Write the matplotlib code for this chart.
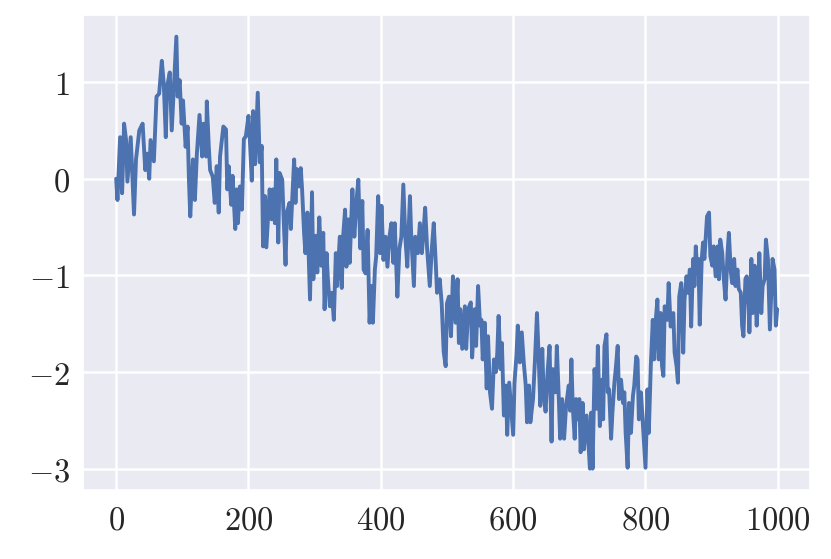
import numpy as np
import matplotlib
matplotlib.use("Agg")
import matplotlib.pyplot as plt
import seaborn as sns
from matplotlib.ticker import FuncFormatter

# step index and value, section by section
steps = [
    0, 2, 6, 9, 12, 15, 17, 22, 27, 30, 35, 40, 44, 47, 50, 52, 57, 61, 65, 69,
    72, 75, 77, 81, 84, 87, 91, 93, 96, 99, 101, 105, 108, 110, 112, 116, 119, 122, 126, 130,
    132, 136, 137, 140, 142, 146, 149, 152, 155, 157, 162,
    166, 168, 170, 174, 176, 180, 182, 184, 187, 190, 193, 196, 200, 202, 205, 207, 210, 214, 217,
    220, 222, 225, 227, 232, 235, 237, 240, 242, 245, 247, 251, 253, 256, 258, 262, 264, 269, 271,
    273, 276, 279, 281, 284, 286, 289, 293, 296, 298, 301, 304, 307, 310, 313, 315, 318, 320, 323,
    326, 329, 332, 334,
    338, 341, 343, 346, 348, 351, 353, 357, 360, 363, 366, 369, 372, 374, 377, 380, 383, 386, 388,
    391, 393, 396, 399, 401, 404, 407, 410, 413, 416, 419, 421, 425, 428, 431, 434, 437, 440, 444,
    446, 450, 452, 456, 459, 462, 464, 467, 470, 474, 477, 480, 483, 485, 489, 492, 495, 498, 500,
    503, 506, 509,
    513, 516, 518, 520, 523, 527, 529, 532, 536, 538, 542, 544, 547, 550, 552, 554, 557, 560, 562,
    565, 568, 571, 574, 576, 578, 581, 583, 586, 589, 591, 594, 597, 600, 602, 605, 607, 610, 613,
    616, 619, 621, 624, 626, 630, 633, 636, 639, 641, 644, 646, 649, 652, 655, 658, 660, 664, 666,
    669, 671, 674, 677, 680,
    684, 686, 688, 690, 693, 695, 697, 700, 702, 705, 707, 711, 714, 716, 718, 720, 723, 726, 728,
    731, 734, 736, 738, 741, 743, 745, 748, 750, 753, 755, 758, 760, 763, 766, 768, 770, 773, 775,
    778, 781, 783, 786, 788, 790, 793, 795, 798, 800, 803, 805, 808, 811, 813, 816, 818, 820, 823,
    825, 827, 829, 833, 835, 838, 842, 844, 847,
    849, 851, 854, 857, 859, 862, 864, 867, 869, 872, 874, 876, 878, 880, 882, 885, 887, 889, 893,
    896, 898, 901, 903, 906, 909, 911, 913, 916, 918, 921, 924, 926, 929, 931, 934, 936, 939, 941,
    944, 946, 948, 951, 953, 956, 957, 960, 962, 965, 968, 970, 972, 975, 977, 980, 982, 985, 988,
    990, 992, 995, 997, 999,
]
values = [
    0.0, -0.22, 0.43, -0.15, 0.57, 0.4, -0.03, 0.43, -0.37, 0.2, 0.5, 0.57, 0.09, 0.26, 0.0, 0.4, 0.18, 0.85, 0.88, 1.22,
    0.98, 0.43, 0.95, 1.1, 0.5, 0.91, 1.47, 0.85, 1.02, 0.57, 0.81, 0.33, 0.54, -0.01, -0.39, 0.2, -0.22, 0.26, 0.66, 0.23,
    0.57, 0.23, 0.8, 0.33, 0.09, 0.02, -0.25, 0.13, -0.35, 0.23, 0.54,
    0.51, -0.11, 0.13, -0.27, 0.03, -0.52, -0.11, -0.46, -0.08, -0.32, 0.41, 0.44, 0.65, 0.41, -0.02, 0.7, 0.15, 0.89, 0.17,
    0.34, -0.7, -0.18, -0.71, -0.11, -0.42, -0.11, -0.46, 0.2, -0.66, 0.06, -0.01, -0.39, -0.89, -0.35, -0.25, -0.52, 0.2, -0.25,
    0.1, -0.08, 0.11, -0.11, -0.56, -0.77, -0.35, -1.25, -0.14, -1.04, -0.59, -0.97, -0.4, -0.9, -0.56, -1.35, -0.77, -1.04, -1.32,
    -1.18, -1.46, -0.77, -1.11,
    -0.6, -1.13, -0.6, -0.32, -0.91, -0.42, -0.87, -0.11, -0.6, -0.25, -0.01, -0.72, -0.23, -0.94, -0.98, -0.53, -1.49, -1.11, -1.49,
    -0.94, -0.8, -0.18, -0.77, -0.28, -0.84, -0.6, -0.91, -0.6, -0.46, -0.87, -0.46, -1.22, -0.73, -0.6, -0.06, -0.6, -0.91, -0.18,
    -0.6, -1.11, -0.6, -0.77, -0.46, -0.77, -0.6, -0.3, -0.73, -1.11, -0.73, -0.46, -0.87, -1.18, -1.04, -1.29, -1.79, -1.94, -1.29,
    -1.22, -1.63, -1.01,
    -1.49, -1.04, -1.7, -1.35, -1.76, -1.32, -1.76, -1.35, -1.28, -1.85, -1.35, -1.73, -1.11, -1.52, -1.46, -1.87, -1.49, -2.17, -1.63,
    -2.21, -2.38, -1.87, -2.0, -1.8, -1.42, -1.97, -1.7, -2.45, -2.14, -2.65, -2.11, -2.38, -2.65, -2.11, -1.83, -1.52, -1.9, -1.59,
    -1.9, -2.14, -2.52, -2.14, -2.52, -2.28, -1.87, -1.39, -1.93, -2.35, -1.76, -2.21, -2.41, -2.0, -1.73, -2.72, -1.97, -2.21, -1.73,
    -2.28, -2.69, -2.28, -2.69, -2.35,
    -2.14, -2.4, -1.87, -2.35, -2.69, -2.28, -2.49, -2.28, -2.83, -2.32, -2.8, -2.45, -2.76, -3.0, -2.42, -3.0, -1.97, -2.38, -1.73,
    -2.56, -2.08, -2.49, -1.73, -1.61, -2.21, -2.18, -2.69, -2.42, -2.11, -1.97, -1.73, -2.28, -2.08, -2.32, -2.21, -2.63, -2.99, -2.32,
    -2.63, -2.25, -2.14, -1.84, -1.87, -2.49, -2.21, -2.42, -2.76, -2.99, -2.18, -2.63, -1.94, -1.46, -1.87, -1.42, -1.25, -1.87, -1.39,
    -1.94, -2.04, -1.32, -1.46, -1.08, -1.53, -1.39, -1.8, -1.94,
    -2.11, -1.22, -1.08, -1.8, -1.25, -1.01, -1.18, -0.94, -1.53, -0.83, -1.11, -0.7, -0.94, -0.83, -1.51, -0.83, -0.66, -0.83, -0.39,
    -0.35, -0.8, -0.9, -0.7, -1.01, -0.7, -1.04, -0.63, -0.77, -1.01, -1.25, -0.77, -0.56, -0.97, -1.08, -0.83, -1.11, -0.94, -1.14,
    -1.18, -1.52, -1.63, -1.04, -1.01, -1.32, -1.59, -0.83, -1.39, -0.9, -1.52, -1.25, -0.77, -1.39, -1.11, -1.04, -0.63, -0.83, -1.56,
    -1.18, -0.83, -0.94, -1.52, -1.35,
]

sns.set_theme(style="darkgrid", rc={"grid.linewidth": 1.8})
plt.rcParams["mathtext.fontset"] = "cm"

fig = plt.figure(figsize=(8.31, 5.59), dpi=100)
ax = fig.add_subplot(111)
fig.subplots_adjust(left=0.1, right=0.975, top=0.973, bottom=0.123)

ax.plot(steps, values, color="#4C72B0", linewidth=2.8)

fmt = FuncFormatter(lambda v, pos: "$%d$" % round(v))
ax.xaxis.set_major_formatter(fmt)
ax.yaxis.set_major_formatter(fmt)
ax.set_xticks([0, 200, 400, 600, 800, 1000])
ax.set_yticks([-3, -2, -1, 0, 1])
ax.tick_params(labelsize=23.5, colors="#262626")

fig.savefig("out.png", dpi=100)
